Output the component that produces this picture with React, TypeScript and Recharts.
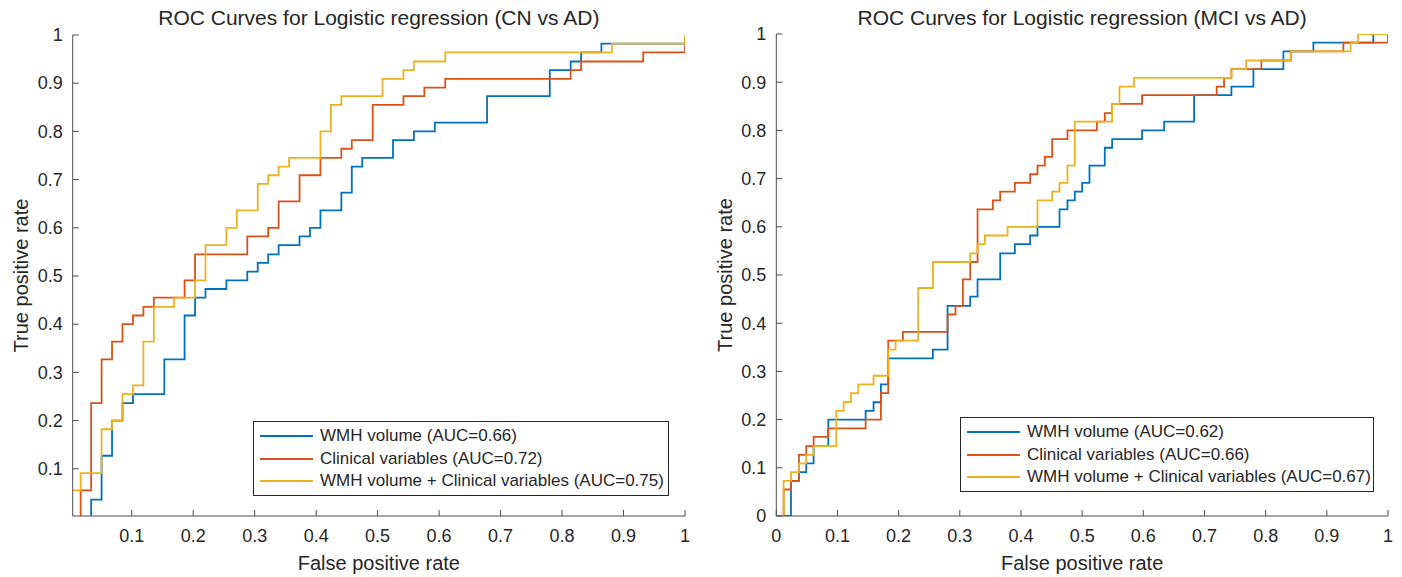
import { Legend, Line, LineChart, XAxis, YAxis } from "recharts";

// ---- CN vs AD (left panel) ----
const cnWmhFpr = [0, 0.034, 0.051, 0.068, 0.085, 0.102, 0.153, 0.186, 0.203, 0.22, 0.254, 0.288, 0.305, 0.322, 0.339, 0.373, 0.39, 0.407, 0.441, 0.458, 0.475, 0.525, 0.559, 0.593, 0.678, 0.78, 0.814, 0.831, 0.864, 1];
const cnWmhTpr = [0, 0.036, 0.127, 0.2, 0.236, 0.255, 0.327, 0.418, 0.455, 0.473, 0.491, 0.509, 0.527, 0.545, 0.564, 0.582, 0.6, 0.636, 0.673, 0.727, 0.745, 0.782, 0.8, 0.818, 0.873, 0.927, 0.945, 0.964, 0.982, 1];

const cnClinFpr = [0, 0.017, 0.034, 0.051, 0.068, 0.085, 0.102, 0.119, 0.136, 0.186, 0.203, 0.288, 0.322, 0.339, 0.373, 0.407, 0.441, 0.458, 0.492, 0.542, 0.576, 0.61, 0.814, 0.831, 0.932, 1];
const cnClinTpr = [0, 0.055, 0.236, 0.327, 0.364, 0.4, 0.418, 0.436, 0.455, 0.491, 0.545, 0.582, 0.6, 0.655, 0.709, 0.745, 0.764, 0.782, 0.855, 0.873, 0.891, 0.909, 0.927, 0.945, 0.964, 1];

const cnCombFpr = [0, 0, 0.017, 0.051, 0.068, 0.085, 0.102, 0.119, 0.136, 0.169, 0.203, 0.22, 0.254, 0.271, 0.305, 0.322, 0.339, 0.356, 0.407, 0.424, 0.441, 0.508, 0.542, 0.559, 0.61, 0.881, 1];
const cnCombTpr = [0, 0.055, 0.091, 0.182, 0.2, 0.255, 0.273, 0.364, 0.436, 0.455, 0.491, 0.564, 0.6, 0.636, 0.691, 0.709, 0.727, 0.745, 0.8, 0.855, 0.873, 0.909, 0.927, 0.945, 0.964, 0.982, 1];

const cnAuc = [0.66, 0.72, 0.75];

// ---- MCI vs AD (right panel) ----
const mciWmhFpr = [0, 0.024, 0.037, 0.049, 0.061, 0.085, 0.146, 0.159, 0.171, 0.183, 0.256, 0.28, 0.317, 0.329, 0.366, 0.39, 0.415, 0.427, 0.463, 0.476, 0.488, 0.5, 0.512, 0.537, 0.549, 0.598, 0.634, 0.683, 0.744, 0.78, 0.829, 0.878, 0.976, 1];
const mciWmhTpr = [0, 0.073, 0.091, 0.109, 0.145, 0.2, 0.218, 0.236, 0.273, 0.327, 0.345, 0.436, 0.455, 0.491, 0.545, 0.564, 0.582, 0.6, 0.636, 0.655, 0.673, 0.691, 0.727, 0.764, 0.782, 0.8, 0.818, 0.873, 0.891, 0.927, 0.964, 0.982, 1, 1];

const mciClinFpr = [0, 0.012, 0.024, 0.037, 0.049, 0.061, 0.085, 0.146, 0.171, 0.183, 0.207, 0.28, 0.293, 0.305, 0.317, 0.329, 0.354, 0.366, 0.39, 0.415, 0.427, 0.439, 0.451, 0.476, 0.524, 0.537, 0.549, 0.598, 0.72, 0.732, 0.744, 0.793, 0.841, 0.927, 1];
const mciClinTpr = [0, 0.055, 0.073, 0.127, 0.145, 0.164, 0.182, 0.2, 0.255, 0.364, 0.382, 0.418, 0.436, 0.491, 0.527, 0.636, 0.655, 0.673, 0.691, 0.709, 0.727, 0.745, 0.782, 0.8, 0.818, 0.836, 0.855, 0.873, 0.891, 0.909, 0.927, 0.945, 0.964, 0.982, 1];

const mciCombFpr = [0, 0.012, 0.024, 0.037, 0.049, 0.061, 0.098, 0.11, 0.122, 0.134, 0.159, 0.183, 0.195, 0.232, 0.256, 0.317, 0.329, 0.341, 0.378, 0.427, 0.451, 0.463, 0.476, 0.488, 0.549, 0.561, 0.585, 0.744, 0.768, 0.841, 0.939, 0.951, 1];
const mciCombTpr = [0, 0.073, 0.091, 0.109, 0.127, 0.145, 0.218, 0.236, 0.255, 0.273, 0.291, 0.345, 0.364, 0.473, 0.527, 0.545, 0.564, 0.582, 0.6, 0.655, 0.673, 0.691, 0.727, 0.818, 0.855, 0.891, 0.909, 0.927, 0.945, 0.964, 0.982, 1, 1];

const mciAuc = [0.62, 0.66, 0.67];

const seriesLabels = ["WMH volume", "Clinical variables", "WMH volume + Clinical variables"];
const cnTicks = [0.1, 0.2, 0.3, 0.4, 0.5, 0.6, 0.7, 0.8, 0.9, 1];
const mciTicks = [0, 0.1, 0.2, 0.3, 0.4, 0.5, 0.6, 0.7, 0.8, 0.9, 1];

const COLORS = ["#0072BD", "#D95319", "#EDB120"];
const AXIS = "#4d4d4d";
const INK = "#262626";
const FONT = "'Liberation Sans', Arial, Helvetica, sans-serif";

const toPoints = (fpr: number[], tpr: number[]) => fpr.map((x, i) => ({ fpr: x, tpr: tpr[i] }));

function BottomTick(props: any) {
  const { x, y, payload } = props;
  return (
    <g>
      <line x1={x} y1={y - 13} x2={x} y2={y - 19} stroke={AXIS} />
      <text x={x} y={y} dy="0.71em" textAnchor="middle" fontSize={18} fill={INK}>
        {String(payload.value)}
      </text>
    </g>
  );
}

function LeftTick(props: any) {
  const { x, y, payload } = props;
  return (
    <g>
      <line x1={x + 10} y1={y} x2={x + 16} y2={y} stroke={AXIS} />
      <text x={x} y={y} dy="0.35em" textAnchor="end" fontSize={18} fill={INK}>
        {String(payload.value)}
      </text>
    </g>
  );
}

function TopTick(props: any) {
  const { x, y } = props;
  return <line x1={x} y1={y} x2={x} y2={y + 6} stroke={AXIS} />;
}

function RightTick(props: any) {
  const { x, y } = props;
  return <line x1={x - 6} y1={y} x2={x} y2={y} stroke={AXIS} />;
}

function RocLegend({ payload, width }: any) {
  // keep the plotting order (blue, red, yellow) instead of an alphabetical one
  const items = [...(payload || [])].sort(
    (a: any, b: any) => COLORS.indexOf(a.color) - COLORS.indexOf(b.color)
  );
  return (
    <div
      style={{
        width,
        boxSizing: "border-box",
        border: `1px solid ${INK}`,
        background: "#fff",
        padding: "3px 0 2px 0",
        fontFamily: FONT,
        fontSize: 17,
        color: INK,
      }}
    >
      {items.map((item: any) => (
        <div key={item.value} style={{ display: "flex", alignItems: "center", height: 22.5 }}>
          <svg width={66} height={10} style={{ flex: "none" }}>
            <line x1={6} y1={5} x2={59} y2={5} stroke={item.color} strokeWidth={1.8} />
          </svg>
          <span style={{ whiteSpace: "nowrap" }}>{item.value}</span>
        </div>
      ))}
    </div>
  );
}

type PanelProps = {
  title: string;
  series: { fpr: number[]; tpr: number[] }[];
  auc: number[];
  ticks: number[];
  xDomain: [number, number];
  yDomain: [number, number];
  yAxisWidth: number;
  marginRight: number;
  marginTop: number;
  yLabelOffset: number;
  legendBox: { left: number; top: number; width: number };
};

function RocPanel(p: PanelProps) {
  const plotLeft = p.yAxisWidth;
  const plotRight = 700 - p.marginRight;
  return (
    <div style={{ position: "relative", width: 700, height: 577 }}>
      <div
        style={{
          position: "absolute",
          left: plotLeft,
          width: plotRight - plotLeft,
          top: 7,
          textAlign: "center",
          fontSize: 21,
          lineHeight: "21px",
          color: INK,
          whiteSpace: "nowrap",
          zIndex: 1,
        }}
      >
        {p.title}
      </div>
      <LineChart
        width={700}
        height={577}
        margin={{ top: p.marginTop, right: p.marginRight, bottom: 0, left: 0 }}
      >
        <XAxis
          dataKey="fpr"
          type="number"
          domain={p.xDomain}
          ticks={p.ticks}
          interval={0}
          allowDataOverflow
          height={61}
          tickSize={0}
          tickMargin={13}
          tick={<BottomTick />}
          axisLine={{ stroke: AXIS }}
          label={{ value: "False positive rate", position: "insideBottom", offset: 7, fontSize: 20, fill: INK }}
        />
        <XAxis
          xAxisId="top"
          orientation="top"
          dataKey="fpr"
          type="number"
          domain={p.xDomain}
          ticks={p.ticks}
          interval={0}
          allowDataOverflow
          height={0}
          tickSize={0}
          tickMargin={0}
          tick={<TopTick />}
          axisLine={{ stroke: AXIS }}
        />
        <YAxis
          dataKey="tpr"
          type="number"
          domain={p.yDomain}
          ticks={p.ticks}
          interval={0}
          allowDataOverflow
          width={p.yAxisWidth}
          tickSize={0}
          tickMargin={10}
          tick={<LeftTick />}
          axisLine={{ stroke: AXIS }}
          label={{
            value: "True positive rate",
            angle: -90,
            position: "insideLeft",
            offset: p.yLabelOffset,
            fontSize: 20,
            fill: INK,
            style: { textAnchor: "middle" },
          }}
        />
        <YAxis
          yAxisId="right"
          orientation="right"
          type="number"
          domain={p.yDomain}
          ticks={p.ticks}
          interval={0}
          allowDataOverflow
          width={0}
          tickSize={0}
          tickMargin={0}
          tick={<RightTick />}
          axisLine={{ stroke: AXIS }}
        />
        {p.series.map((s, i) => (
          <Line
            key={seriesLabels[i]}
            data={toPoints(s.fpr, s.tpr)}
            dataKey="tpr"
            name={`${seriesLabels[i]} (AUC=${p.auc[i].toFixed(2)})`}
            type="stepAfter"
            stroke={COLORS[i]}
            strokeWidth={1.8}
            dot={false}
            activeDot={false}
            isAnimationActive={false}
          />
        ))}
        <Legend
          layout="vertical"
          verticalAlign="middle"
          align="center"
          wrapperStyle={{ left: p.legendBox.left, top: p.legendBox.top, width: p.legendBox.width, bottom: "auto", right: "auto" }}
          content={(props: any) => <RocLegend payload={props.payload} width={p.legendBox.width} />}
        />
      </LineChart>
    </div>
  );
}

export default function App() {
  return (
    <div
      style={{
        position: "absolute",
        left: 0,
        top: 0,
        width: 1402,
        height: 577,
        background: "#fff",
        fontFamily: FONT,
        overflow: "hidden",
      }}
    >
      <div style={{ position: "absolute", left: 0, top: 0 }}>
        <RocPanel
          title="ROC Curves for Logistic regression (CN vs AD)"
          series={[
            { fpr: cnWmhFpr, tpr: cnWmhTpr },
            { fpr: cnClinFpr, tpr: cnClinTpr },
            { fpr: cnCombFpr, tpr: cnCombTpr },
          ]}
          auc={cnAuc}
          ticks={cnTicks}
          xDomain={[0.004, 1]}
          yDomain={[0.002, 1]}
          yAxisWidth={72.7}
          marginRight={15}
          marginTop={35}
          yLabelOffset={21}
          legendBox={{ left: 253, top: 421, width: 416 }}
        />
      </div>
      <div style={{ position: "absolute", left: 700, top: 0 }}>
        <RocPanel
          title="ROC Curves for Logistic regression (MCI vs AD)"
          series={[
            { fpr: mciWmhFpr, tpr: mciWmhTpr },
            { fpr: mciClinFpr, tpr: mciClinTpr },
            { fpr: mciCombFpr, tpr: mciCombTpr },
          ]}
          auc={mciAuc}
          ticks={mciTicks}
          xDomain={[0, 1]}
          yDomain={[0, 1]}
          yAxisWidth={76.3}
          marginRight={12}
          marginTop={34}
          yLabelOffset={25}
          legendBox={{ left: 260, top: 417, width: 414 }}
        />
      </div>
    </div>
  );
}
